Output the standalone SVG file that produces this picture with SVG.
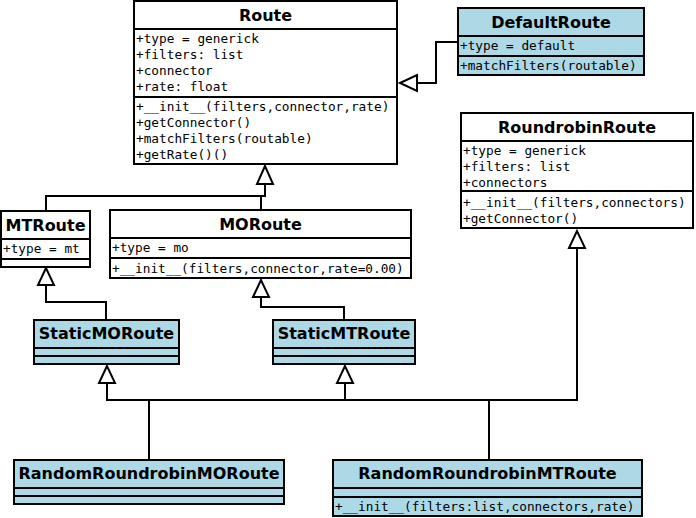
<svg xmlns="http://www.w3.org/2000/svg" width="696" height="518" viewBox="0 0 696 518">
<style>
.box{stroke:#000;stroke-width:2}
.w{fill:#fff}
.b{fill:#add8e6}
.sep{stroke:#000;stroke-width:2;fill:none}
.t{font-family:"DejaVu Sans",sans-serif;font-weight:bold;font-size:16px;text-anchor:middle;fill:#000}
.m{font-family:"DejaVu Sans Mono",monospace;font-size:12.75px;fill:#000}
.c{stroke:#000;stroke-width:2;fill:none}
.ah{stroke:#000;stroke-width:2;fill:#fff}
</style>
<rect width="696" height="518" fill="#fff"/>
<g id="connectors">
<path class="c" d="M458,42 H436 V83 H417"/>
<polygon class="ah" points="400,83 417,75 417,91"/>
<path class="c" d="M46,211 V196 H265 V184 M261,210 V196"/>
<polygon class="ah" points="265,166 257,184 273,184"/>
<path class="c" d="M106,320 V302 H46 V285"/>
<polygon class="ah" points="46,268 38,285 54,285"/>
<path class="c" d="M344,320 V307 H261 V297"/>
<polygon class="ah" points="261,280 253,297 269,297"/>
<path class="c" d="M149,460 V400 M489,460 V400 M107,383 V400 H577 V248 M345,383 V400"/>
<polygon class="ah" points="107,366 99,383 115,383"/>
<polygon class="ah" points="345,366 337,383 353,383"/>
<polygon class="ah" points="577,231 569,248 585,248"/>
</g>
<g id="Route">
<rect class="box w" x="134" y="1" width="263" height="163"/>
<path class="sep" d="M134,29 H397 M134,97 H397"/>
<text class="t" x="265.5" y="21">Route</text>
<text class="m" x="136" y="43">+type = generick</text>
<text class="m" x="136" y="59">+filters: list</text>
<text class="m" x="136" y="75">+connector</text>
<text class="m" x="136" y="91">+rate: float</text>
<text class="m" x="136" y="111">+__init__(filters,connector,rate)</text>
<text class="m" x="136" y="127">+getConnector()</text>
<text class="m" x="136" y="143">+matchFilters(routable)</text>
<text class="m" x="136" y="159">+getRate()()</text>
</g>
<g id="DefaultRoute">
<rect class="box b" x="458" y="8" width="186" height="67"/>
<path class="sep" d="M458,36 H644 M458,56 H644"/>
<text class="t" x="551" y="28">DefaultRoute</text>
<text class="m" x="460" y="50">+type = default</text>
<text class="m" x="460" y="70">+matchFilters(routable)</text>
</g>
<g id="RoundrobinRoute">
<rect class="box w" x="461" y="113" width="232" height="115"/>
<path class="sep" d="M461,141 H693 M461,191 H693"/>
<text class="t" x="577" y="133">RoundrobinRoute</text>
<text class="m" x="463" y="155">+type = generick</text>
<text class="m" x="463" y="171">+filters: list</text>
<text class="m" x="463" y="187">+connectors</text>
<text class="m" x="463" y="207">+__init__(filters,connectors)</text>
<text class="m" x="463" y="223">+getConnector()</text>
</g>
<g id="MTRoute">
<rect class="box w" x="1" y="211" width="89" height="56"/>
<path class="sep" d="M1,239 H90 M1,259 H90"/>
<text class="t" x="45.5" y="231">MTRoute</text>
<text class="m" x="3" y="253">+type = mt</text>
</g>
<g id="MORoute">
<rect class="box w" x="110" y="210" width="301" height="68"/>
<path class="sep" d="M110,238 H411 M110,258 H411"/>
<text class="t" x="260.5" y="230">MORoute</text>
<text class="m" x="112" y="252">+type = mo</text>
<text class="m" x="112" y="273">+__init__(filters,connector,rate=0.00)</text>
</g>
<g id="StaticMORoute">
<rect class="box b" x="34" y="320" width="145" height="44"/>
<path class="sep" d="M34,348 H179 M34,356 H179"/>
<text class="t" x="106.5" y="339">StaticMORoute</text>
</g>
<g id="StaticMTRoute">
<rect class="box b" x="273" y="320" width="142" height="44"/>
<path class="sep" d="M273,348 H415 M273,356 H415"/>
<text class="t" x="344" y="339">StaticMTRoute</text>
</g>
<g id="RandomRoundrobinMORoute">
<rect class="box b" x="14" y="460" width="270" height="44"/>
<path class="sep" d="M14,488 H284 M14,496 H284"/>
<text class="t" x="149" y="479">RandomRoundrobinMORoute</text>
</g>
<g id="RandomRoundrobinMTRoute">
<rect class="box b" x="333" y="460" width="309" height="56"/>
<path class="sep" d="M333,488 H642 M333,497 H642"/>
<text class="t" x="487.5" y="479">RandomRoundrobinMTRoute</text>
<text class="m" x="335" y="511">+__init__(filters:list,connectors,rate)</text>
</g>
</svg>
